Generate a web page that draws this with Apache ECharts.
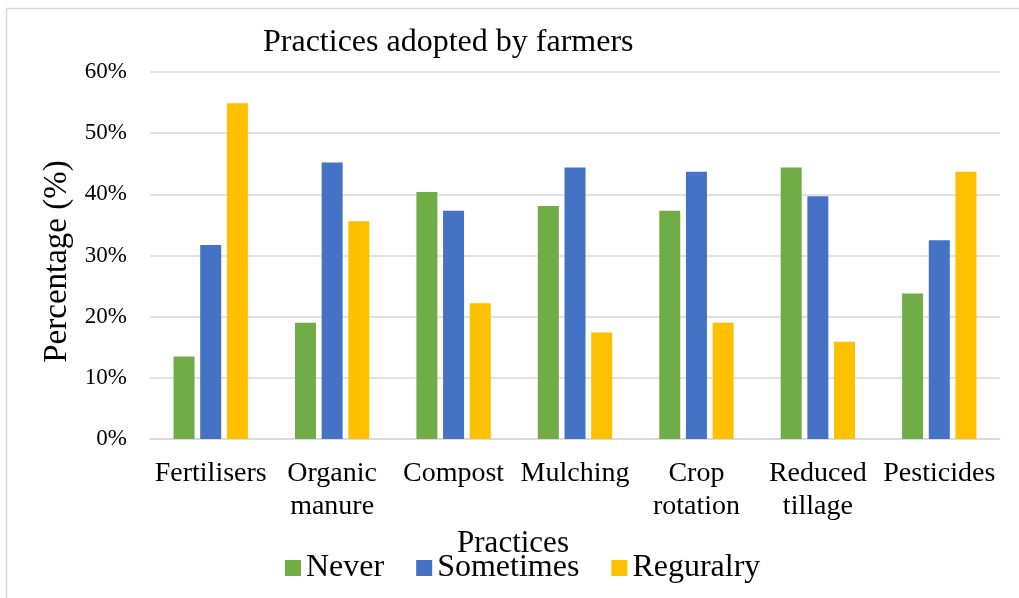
<!DOCTYPE html>
<html>
<head>
<meta charset="utf-8">
<script src="https://cdn.jsdelivr.net/npm/echarts@6/dist/echarts.min.js"></script>
<style>
  html, body { margin: 0; padding: 0; background: #fff; }
  #chart { width: 1019px; height: 598px; }
</style>
</head>
<body>
<div id="chart"></div>
<script>
// Farming practices and how often farmers adopt them (percent of respondents)
const categories = ['Fertilisers', 'Organic\nmanure', 'Compost', 'Mulching', 'Crop\nrotation', 'Reduced\ntillage', 'Pesticides'];
const never = [13.5, 19.0, 40.4, 38.1, 37.3, 44.4, 23.8];
const sometimes = [31.7, 45.2, 37.3, 44.4, 43.7, 39.7, 32.5];
const regularly = [54.9, 35.6, 22.2, 17.4, 19.0, 15.9, 43.7];
const seriesNames = ['Never', 'Sometimes', 'Reguralry'];
const yTicks = [0, 10, 20, 30, 40, 50, 60];

const serif = "'Liberation Serif', 'Times New Roman', serif";
const colors = ['#70ad47', '#4472c4', '#ffc000'];

const chart = echarts.init(document.getElementById('chart'));

chart.setOption({
  animation: false,
  color: colors,
  title: {
    text: 'Practices adopted by farmers',
    left: 258,
    top: 22,
    textStyle: { fontFamily: serif, fontSize: 32, fontWeight: 'normal', color: '#000' }
  },
  legend: {
    data: seriesNames,
    left: 280,
    top: 547,
    icon: 'rect',
    itemWidth: 16,
    itemHeight: 16,
    itemGap: 32,
    itemTextGap: 6,
    textStyle: { fontFamily: serif, fontSize: 32, color: '#000' }
  },
  graphic: [{
    type: 'rect',
    silent: true,
    shape: { x: 6.5, y: 8.5, width: 1100, height: 700 },
    style: { fill: 'none', stroke: '#d9d9d9', lineWidth: 1.5 }
  }],
  grid: { left: 150, right: 19, top: 72, bottom: 159 },
  xAxis: {
    type: 'category',
    data: categories,
    name: 'Practices',
    nameLocation: 'middle',
    nameGap: 62,
    nameTextStyle: { fontFamily: serif, fontSize: 31, color: '#000', padding: [0, 124, 0, 0] },
    axisLine: { lineStyle: { color: '#d9d9d9', width: 1.5 } },
    axisTick: { show: false },
    axisLabel: {
      fontFamily: serif, fontSize: 28, color: '#000', margin: 18,
      lineHeight: 33, interval: 0
    }
  },
  yAxis: {
    type: 'value',
    min: yTicks[0],
    max: yTicks[yTicks.length - 1],
    interval: 10,
    name: 'Percentage (%)',
    nameLocation: 'middle',
    nameGap: 67,
    nameRotate: 90,
    nameTextStyle: { fontFamily: serif, fontSize: 33, color: '#000', padding: [0, 12, 0, 0] },
    axisLine: { show: false },
    axisTick: { show: false },
    splitLine: { lineStyle: { color: '#d9d9d9', width: 1.5 } },
    axisLabel: {
      fontFamily: serif, fontSize: 23, color: '#000', margin: 23,
      verticalAlign: 'middle', lineHeight: 20,
      formatter: v => v + '%'
    }
  },
  series: [
    { name: seriesNames[0], type: 'bar', data: never, barWidth: 21, barGap: '27%' },
    { name: seriesNames[1], type: 'bar', data: sometimes, barWidth: 21, barGap: '27%' },
    { name: seriesNames[2], type: 'bar', data: regularly, barWidth: 21, barGap: '27%' }
  ]
});
</script>
</body>
</html>
